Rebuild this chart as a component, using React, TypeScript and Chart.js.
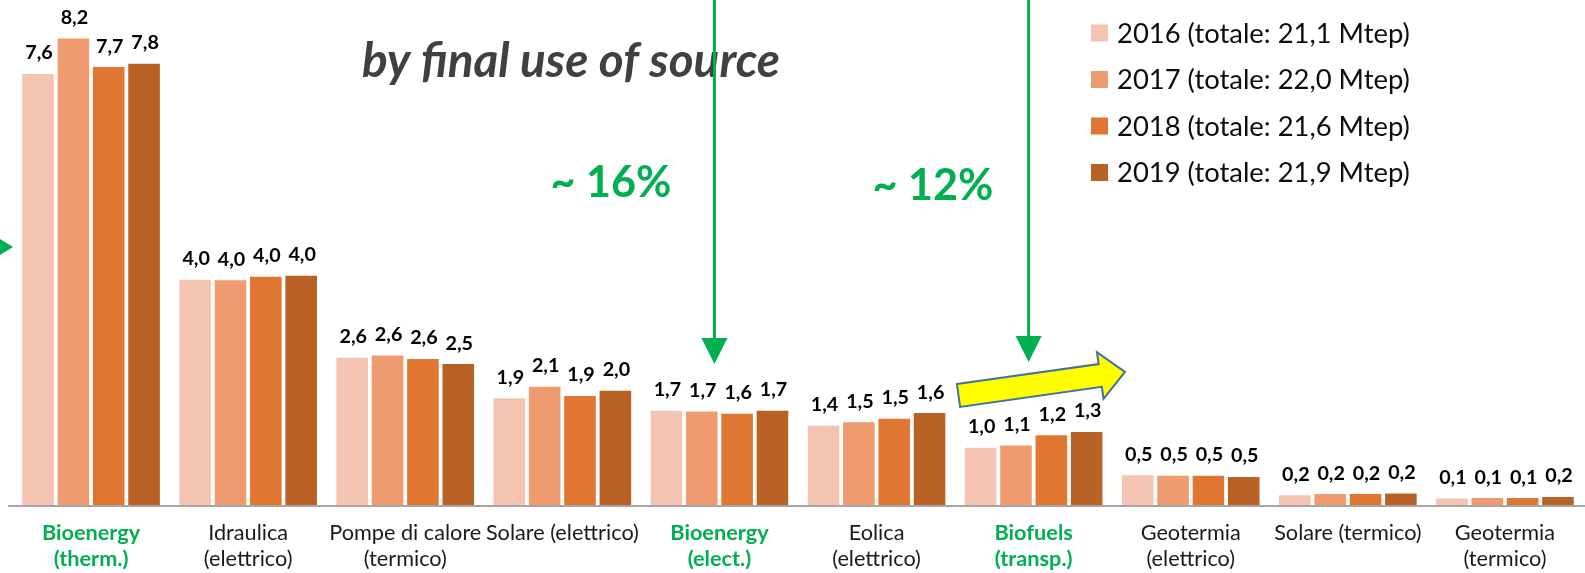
import React, { useEffect, useRef } from "react";
import { Chart, registerables } from "chart.js";

Chart.register(...registerables);

// ---------- data ----------
const categories: string[][] = [
  ["Bioenergy", "(therm.)"],
  ["Idraulica", "(elettrico)"],
  ["Pompe di calore", "(termico)"],
  ["Solare (elettrico)"],
  ["Bioenergy", "(elect.)"],
  ["Eolica", "(elettrico)"],
  ["Biofuels", "(transp.)"],
  ["Geotermia", "(elettrico)"],
  ["Solare (termico)"],
  ["Geotermia", "(termico)"],
];
const highlightedCategories = [0, 4, 6];

const seriesLabels = [
  "2016 (totale: 21,1 Mtep)",
  "2017 (totale: 22,0 Mtep)",
  "2018 (totale: 21,6 Mtep)",
  "2019 (totale: 21,9 Mtep)",
];
const values2016 = [7.58, 3.97, 2.6, 1.89, 1.67, 1.41, 1.02, 0.54, 0.19, 0.13];
const values2017 = [8.2, 3.96, 2.64, 2.09, 1.66, 1.47, 1.06, 0.53, 0.21, 0.14];
const values2018 = [7.7, 4.02, 2.58, 1.93, 1.62, 1.53, 1.24, 0.53, 0.21, 0.14];
const values2019 = [7.76, 4.04, 2.49, 2.02, 1.67, 1.63, 1.3, 0.51, 0.22, 0.16];
const seriesValues = [values2016, values2017, values2018, values2019];

const titleText = "by final use of source";
const shareLabels = ["~ 16%", "~ 12%"];
const shareArrowCategories = [4, 6];

// ---------- styles ----------
const seriesColors = ["#F5C3B1", "#F09A70", "#DF7631", "#B96226"];
const GREEN = "#00B050";
const FONT = "Lato, 'Open Sans', sans-serif";

function fitFont(style: string, weight: string, text: string, target: number): number {
  const c = document.createElement("canvas").getContext("2d")!;
  c.font = `${style} ${weight} 100px ${FONT}`;
  const w = c.measureText(text).width;
  return (100 * target) / w;
}

export default function App() {
  const ref = useRef<HTMLCanvasElement | null>(null);

  useEffect(() => {
    document.body.style.margin = "0";
    const tickSize = fitFont("normal", "400", "Solare (elettrico)", 153);
    const valueSize = fitFont("normal", "700", "7,6", 27.5);
    const legendSize = fitFont("normal", "400", seriesLabels[0], 293);
    const titleSize = fitFont("italic", "700", titleText, 418);
    const shareSize = fitFont("normal", "700", shareLabels[0], 121);

    const overlay = {
      id: "overlay",
      afterDatasetsDraw(chart: any) {
        const { ctx } = chart;
        const x = chart.scales.x;
        const y = chart.scales.y;
        const base = y.getPixelForValue(0);
        ctx.save();
        // baseline
        ctx.strokeStyle = "#A6A6A6";
        ctx.lineWidth = 2;
        ctx.beginPath();
        ctx.moveTo(8, base + 1);
        ctx.lineTo(chart.width, base + 1);
        ctx.stroke();

        // value labels
        ctx.font = `normal 700 ${valueSize}px ${FONT}`;
        ctx.fillStyle = "#000";
        ctx.textAlign = "center";
        ctx.textBaseline = "alphabetic";
        chart.data.datasets.forEach((ds: any, i: number) => {
          const meta = chart.getDatasetMeta(i);
          meta.data.forEach((bar: any, j: number) => {
            const v = ds.data[j] as number;
            ctx.fillText(v.toFixed(1).replace(".", ","), bar.x + 1, bar.y - 13.5);
          });
        });

        // title
        ctx.font = `italic 700 ${titleSize}px ${FONT}`;
        ctx.fillStyle = "#404040";
        ctx.textBaseline = "middle";
        ctx.fillText(titleText, 571, 62);

        // share labels
        ctx.font = `normal 700 ${shareSize}px ${FONT}`;
        ctx.fillStyle = GREEN;
        ctx.fillText(shareLabels[0], 611, 183);
        ctx.fillText(shareLabels[1], 933, 186);

        // vertical arrows
        const tips = [364, 362];
        shareArrowCategories.forEach((ci, k) => {
          const px = x.getPixelForValue(ci) - 5;
          const tip = tips[k];
          ctx.strokeStyle = GREEN;
          ctx.lineWidth = 3;
          ctx.beginPath();
          ctx.moveTo(px, 0);
          ctx.lineTo(px, tip - 24);
          ctx.stroke();
          ctx.fillStyle = GREEN;
          ctx.beginPath();
          ctx.moveTo(px - 13, tip - 26);
          ctx.lineTo(px + 13, tip - 26);
          ctx.lineTo(px, tip);
          ctx.closePath();
          ctx.fill();
        });

        // left partial arrow
        ctx.fillStyle = GREEN;
        ctx.beginPath();
        ctx.moveTo(0, 239);
        ctx.lineTo(13, 247);
        ctx.lineTo(0, 255);
        ctx.closePath();
        ctx.fill();

        // yellow trend arrow
        const tx = 958.5, ty = 395.5, ex = 1125, ey = 372;
        const len = Math.hypot(ex - tx, ey - ty);
        const ux = (ex - tx) / len, uy = (ey - ty) / len;
        const nx = -uy, ny = ux;
        const bw = 11.5, hw = 23.5, hl = 25;
        const P = (a: number, b: number) => [tx + ux * a + nx * b, ty + uy * a + ny * b];
        const pts = [P(0, -bw), P(len - hl, -bw), P(len - hl, -hw), P(len, 0), P(len - hl, hw), P(len - hl, bw), P(0, bw)];
        ctx.beginPath();
        pts.forEach((p, i) => (i ? ctx.lineTo(p[0], p[1]) : ctx.moveTo(p[0], p[1])));
        ctx.closePath();
        ctx.fillStyle = "#FFFF00";
        ctx.fill();
        ctx.strokeStyle = "#41719C";
        ctx.lineWidth = 2;
        ctx.lineJoin = "miter";
        ctx.stroke();

        // legend
        const rows = [33, 79.5, 126, 172.5];
        ctx.font = `normal 400 ${legendSize}px ${FONT}`;
        ctx.textAlign = "left";
        ctx.textBaseline = "middle";
        chart.data.datasets.forEach((ds: any, i: number) => {
          ctx.fillStyle = ds.backgroundColor;
          ctx.fillRect(1091, rows[i] - 8.5, 17, 17);
          ctx.fillStyle = "#0D0D0D";
          ctx.fillText(ds.label, 1117, rows[i] + 1);
        });
        ctx.restore();
      },
    };

    const chart = new Chart(ref.current!, {
      type: "bar",
      data: {
        labels: categories,
        datasets: seriesLabels.map((label, i) => ({
          label,
          data: seriesValues[i],
          backgroundColor: seriesColors[i],
          borderColor: "#FFFFFF",
          borderWidth: 1,
          categoryPercentage: 0.9,
          barPercentage: 0.95,
        })),
      },
      options: {
        responsive: false,
        animation: false,
        devicePixelRatio: 1,
        layout: { padding: { left: 12.5, right: 1.5, top: 10, bottom: 0 } },
        plugins: { legend: { display: false }, tooltip: { enabled: false } },
        scales: {
          x: {
            grid: { display: false, drawTicks: false },
            border: { display: false },
            afterFit: (s: any) => {
              s.height = 68;
            },
            ticks: {
              padding: 15,
              maxRotation: 0,
              minRotation: 0,
              autoSkip: false,
              color: (c: any) => (highlightedCategories.includes(c.index) ? GREEN : "#1A1A1A"),
              font: (c: any) => ({
                family: FONT,
                size: tickSize,
                weight: highlightedCategories.includes(c.index) ? "bold" : "normal",
                lineHeight: 26 / tickSize,
              }),
            },
          },
          y: { display: false, min: 0, max: 8.684 },
        },
      },
      plugins: [overlay],
    });
    return () => chart.destroy();
  }, []);

  return (
    <canvas
      ref={ref}
      width={1585}
      height={573}
      style={{ position: "absolute", left: 0, top: 0, width: 1585, height: 573 }}
    />
  );
}
